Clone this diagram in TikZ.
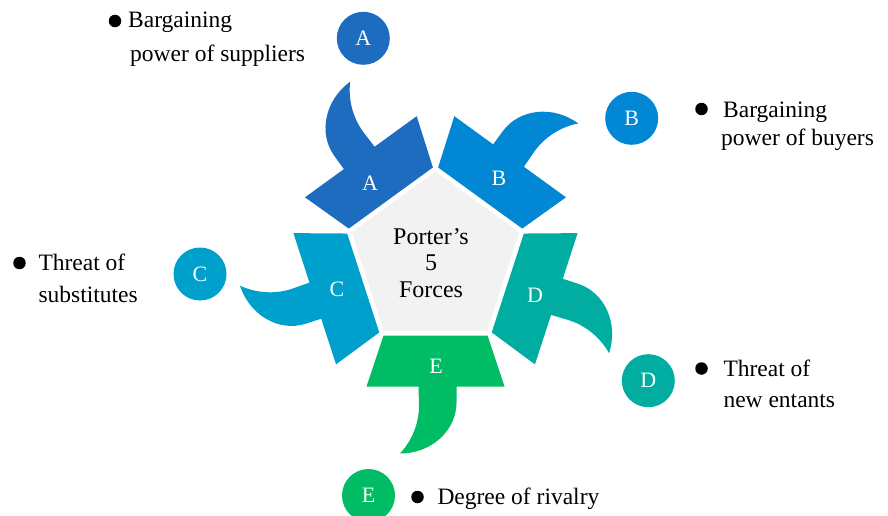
\documentclass[tikz,border=0pt]{standalone}
\usepackage{fontspec}
\setmainfont{Liberation Serif}
\usetikzlibrary{shapes.geometric}
\definecolor{colA}{HTML}{1E6CC0}
\definecolor{colB}{HTML}{0287D4}
\definecolor{colC}{HTML}{00A0CC}
\definecolor{colD}{HTML}{00ADA0}
\definecolor{colE}{HTML}{00BC64}
\definecolor{pentgray}{HTML}{F2F2F2}
\def\forceshape{(-52,-76) -- (52,-76) -- (69,-127) -- (21,-127) -- (21,-143)
  .. controls (21,-171) and (-4,-194) .. (-35.5,-194)
  .. controls (-27,-185) and (-16.5,-168) .. (-16.5,-146)
  -- (-17,-127) -- (-69,-127) -- cycle}
\begin{document}
\begin{tikzpicture}[x=1pt,y=1pt,
  txt/.style={anchor=base west,inner sep=0pt,font=\fontsize{23.5}{28}\selectfont},
  coretxt/.style={anchor=base,inner sep=0pt,font=\fontsize{24}{27}\selectfont},
  letter/.style={inner sep=0pt,text=white,font=\fontsize{22}{26}\selectfont},
  badge/.style={circle,minimum size=53pt,inner sep=0pt,text=white,font=\fontsize{22}{26}\selectfont},
  bullet/.style={circle,fill=black,minimum size=12.5pt,inner sep=0pt}]
\useasboundingbox (0,0) rectangle (888,-516);
\coordinate (ctr) at (435.5,-259.5);
% central pentagon
\node[regular polygon,regular polygon sides=5,minimum size=176pt,inner sep=0pt,fill=pentgray] (core) at (ctr) {};
% five force pieces
\begin{scope}[shift={(ctr)}]
  \fill[colE] \forceshape;
  \begin{scope}[rotate=72]\fill[colD] \forceshape;\end{scope}
  \begin{scope}[rotate=144]\fill[colB] \forceshape;\end{scope}
  \begin{scope}[rotate=216]\fill[colA] \forceshape;\end{scope}
  \begin{scope}[rotate=288]\fill[colC] \forceshape;\end{scope}
\end{scope}
% centre text
\node[coretxt] (core1) at (431,-244.3) {Porter’s};
\node[coretxt] (core2) at (431,-270.7) {5};
\node[coretxt] (core3) at (431,-297.3) {Forces};
% piece letters
\node[letter] (pA) at (370,-183) {A};
\node[letter] (pB) at (499,-178) {B};
\node[letter] (pC) at (337,-289) {C};
\node[letter] (pD) at (535,-295) {D};
\node[letter] (pE) at (436,-366) {E};
% badges
\node[badge,fill=colA] (bA) at (363.3,-38.3) {A};
\node[badge,fill=colB] (bB) at (631.7,-118.3) {B};
\node[badge,fill=colC] (bC) at (200,-274) {C};
\node[badge,fill=colD] (bD) at (648.3,-380.7) {D};
\node[badge,fill=colE] (bE) at (368.5,-495.5) {E};
% bullets
\node[bullet] (dA) at (115,-21) {};
\node[bullet] (dB) at (701.5,-109) {};
\node[bullet] (dC) at (19.5,-263) {};
\node[bullet] (dD) at (701.5,-368.5) {};
\node[bullet] (dE) at (417.5,-497) {};
% texts
\node[txt] (sup1) at (128,-27.3) {Bargaining};
\node[txt] (sup2) at (130,-61.5) {power of suppliers};
\node[txt] (buy1) at (723,-117.3) {Bargaining};
\node[txt] (buy2) at (721,-145.7) {power of buyers};
\node[txt] (sub1) at (38.3,-270) {Threat of};
\node[txt] (sub2) at (38.3,-302.7) {substitutes};
\node[txt] (ent1) at (723.3,-376.5) {Threat of};
\node[txt] (ent2) at (723.3,-407.5) {new entants};
\node[txt] (riv) at (437.3,-504.5) {Degree of rivalry};
\end{tikzpicture}
\end{document}
